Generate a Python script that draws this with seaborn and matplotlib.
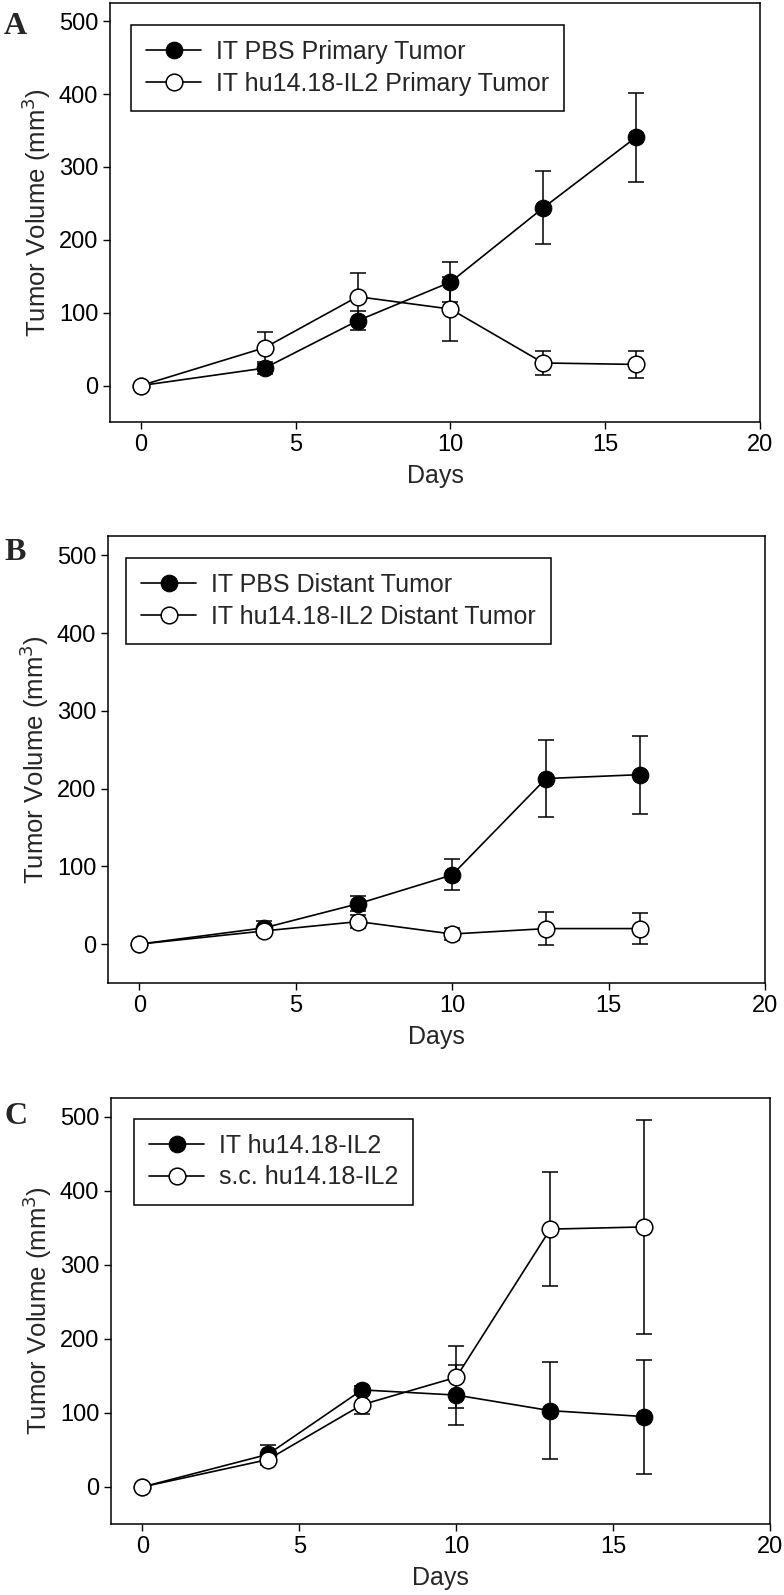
import numpy as np
import matplotlib
matplotlib.use("Agg")
import matplotlib.pyplot as plt
import seaborn as sns

# days of measurement (same for every panel)
days = [0, 4, 7, 10, 13, 16]

# Panel A - primary tumor
a_pbs = [0, 24, 89, 142, 244, 341]
a_pbs_err = [0, 8, 13, 27, 50, 61]
a_il2 = [0, 52, 122, 105, 31, 29]
a_il2_err = [0, 22, 33, 44, 17, 18]
a_labels = ["IT PBS Primary Tumor", "IT hu14.18-IL2 Primary Tumor"]

# Panel B - distant tumor
b_pbs = [0, 21, 52, 89, 213, 218]
b_pbs_err = [0, 9, 10, 20, 50, 50]
b_il2 = [0, 17, 29, 13, 20, 20]
b_il2_err = [0, 5, 8, 8, 21, 20]
b_labels = ["IT PBS Distant Tumor", "IT hu14.18-IL2 Distant Tumor"]

# Panel C - IT vs s.c.
c_it = [0, 44, 131, 124, 103, 95]
c_it_err = [0, 13, 5, 41, 65, 77]
c_sc = [0, 37, 111, 148, 348, 351]
c_sc_err = [0, 7, 13, 42, 77, 144]
c_labels = ["IT hu14.18-IL2", "s.c. hu14.18-IL2"]

sns.set_style("ticks")
plt.rcParams["font.family"] = ["Liberation Sans", "DejaVu Sans"]

W, H = 784, 1595
fig = plt.figure(figsize=(W / 100, H / 100), dpi=100)


def px_axes(left, top, right, bottom):
    return fig.add_axes([left / W, 1 - bottom / H, (right - left) / W, (bottom - top) / H])


def draw_panel(ax, filled, filled_err, opened, opened_err, labels, letter, letter_y, leg_box):
    for y, err in [(filled, filled_err), (opened, opened_err)]:
        ax.errorbar(days, y, yerr=err, fmt="none", ecolor="black", elinewidth=1.1,
                    capsize=6, capthick=1.1, zorder=1)
    sns.lineplot(x=days, y=filled, ax=ax, color="black", marker="o", markersize=12,
                 markerfacecolor="black", markeredgecolor="black", linewidth=1.2,
                 label=labels[0], zorder=3)
    sns.lineplot(x=days, y=opened, ax=ax, color="black", marker="o", markersize=12,
                 markerfacecolor="white", markeredgecolor="black", markeredgewidth=1.1,
                 linewidth=1.2, label=labels[1], zorder=3)
    ax.set_xlim(-1, 20)
    ax.set_ylim(-50, 525)
    ax.set_xticks([0, 5, 10, 15, 20])
    ax.set_yticks([0, 100, 200, 300, 400, 500])
    ax.tick_params(labelsize=17, length=5, width=1, colors="black")
    for s in ax.spines.values():
        s.set_visible(True)
        s.set_linewidth(1.1)
        s.set_color("black")
    ax.set_xlabel("Days", fontsize=18, labelpad=6)
    ax.set_ylabel("Tumor Volume (mm$^3$)", fontsize=18.5, labelpad=4)
    leg = ax.legend(loc="upper left", bbox_to_anchor=leg_box, fontsize=18, frameon=True,
                    fancybox=False, edgecolor="black", framealpha=1, handlelength=2.2,
                    borderpad=0.6, labelspacing=0.3, handletextpad=0.6, borderaxespad=0)
    leg.get_frame().set_linewidth(1.1)
    fig.text(4 / W, 1 - letter_y / H, letter, fontsize=23, fontweight="bold",
             family="Liberation Serif", va="top", ha="left")


ax_a = px_axes(110, 3, 760, 422)
ax_b = px_axes(108, 536, 765, 983)
ax_c = px_axes(111, 1098, 770, 1524)


def leg_anchor(ax, x, y):
    # convert figure pixel location into axes fraction
    pos = ax.get_position()
    return ((x / W - pos.x0) / pos.width, (1 - y / H - pos.y0) / pos.height)


draw_panel(ax_a, a_pbs, a_pbs_err, a_il2, a_il2_err, a_labels, "A", 12,
           leg_anchor(ax_a, 131, 25))
draw_panel(ax_b, b_pbs, b_pbs_err, b_il2, b_il2_err, b_labels, "B", 538,
           leg_anchor(ax_b, 126, 558))
draw_panel(ax_c, c_it, c_it_err, c_sc, c_sc_err, c_labels, "C", 1102,
           leg_anchor(ax_c, 134, 1119))

fig.savefig("out.png", dpi=100)
